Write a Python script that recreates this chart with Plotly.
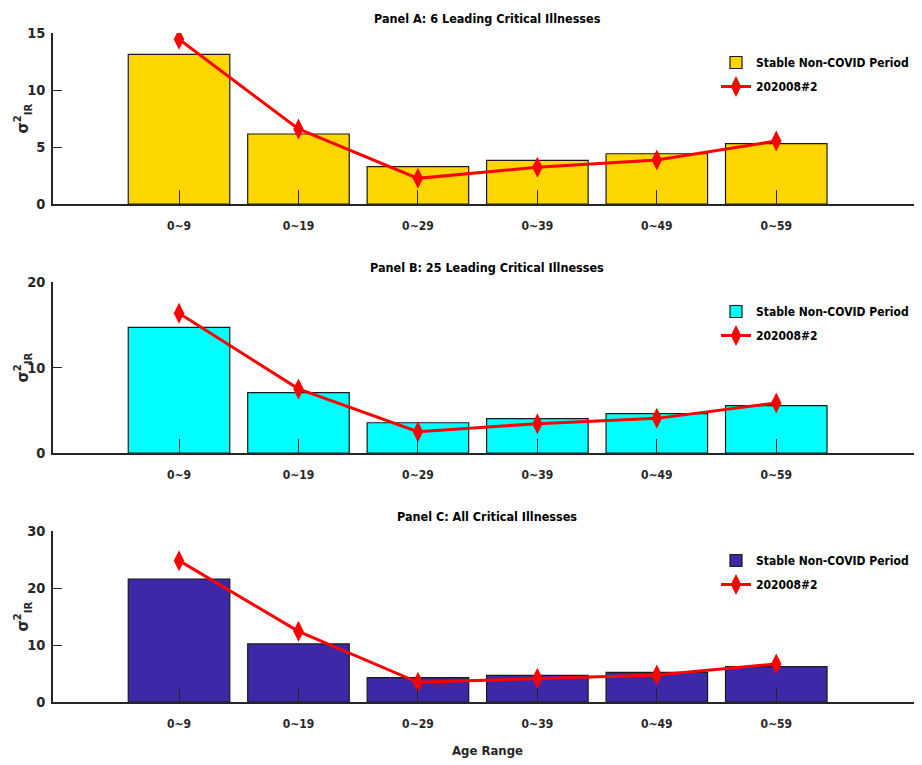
import plotly.graph_objects as go

categories = ["0~9", "0~19", "0~29", "0~39", "0~49", "0~59"]

panel_titles = [
    "Panel A: 6 Leading Critical Illnesses",
    "Panel B: 25 Leading Critical Illnesses",
    "Panel C: All Critical Illnesses",
]

stable_a = [13.13, 6.14, 3.27, 3.83, 4.41, 5.29]
covid_a = [14.45, 6.58, 2.25, 3.22, 3.86, 5.53]

stable_b = [14.7, 7.05, 3.54, 4.01, 4.6, 5.53]
covid_b = [16.34, 7.5, 2.5, 3.43, 4.05, 5.85]

stable_c = [21.58, 10.18, 4.27, 4.68, 5.2, 6.2]
covid_c = [24.8, 12.4, 3.45, 4.15, 4.74, 6.67]

y_ranges = [[0, 15], [0, 20], [0, 30]]
y_ticks = [[0, 5, 10, 15], [0, 10, 20], [0, 10, 20, 30]]

bar_colors = ["#FFD700", "#00FFFF", "#3D29A8"]
bar_name = "Stable Non-COVID Period"
line_name = "202008#2"

# page has an 8px body margin: figure is drawn at (8, 8)
W, H = 914, 757
FONT = "DejaVu Sans Condensed, Liberation Sans Narrow, Liberation Sans, Arial, sans-serif"
TXT = "#262626"

# pixel layout (top, bottom) of each panel's plot area, in figure pixels
panel_px = [(25, 196), (274, 445), (523, 694)]
left_px = 45

stables = [stable_a, stable_b, stable_c]
covids = [covid_a, covid_b, covid_c]

fig = go.Figure()
x_idx = list(range(len(categories)))

annotations = []
layout_extra = {}
for i in range(3):
    xa = "x" if i == 0 else f"x{i+1}"
    ya = "y" if i == 0 else f"y{i+1}"
    lg = "legend" if i == 0 else f"legend{i+1}"
    fig.add_trace(go.Bar(
        x=x_idx, y=stables[i], name=bar_name, xaxis=xa, yaxis=ya, legend=lg,
        legendgroup=f"bar{i}",
        width=0.85, marker=dict(color=bar_colors[i], line=dict(color="#1a1a1a", width=1.2)),
    ))
    fig.add_trace(go.Scatter(
        x=x_idx, y=covids[i], name=line_name, xaxis=xa, yaxis=ya, legend=lg,
        legendgroup=f"line{i}",
        mode="lines+markers",
        line=dict(color="#FF0000", width=3),
        marker=dict(symbol="diamond-tall", size=15, color="#FF0000"),
    ))
    top, bot = panel_px[i]
    dom = [1 - bot / H, 1 - top / H]
    xkey = "xaxis" if i == 0 else f"xaxis{i+1}"
    ykey = "yaxis" if i == 0 else f"yaxis{i+1}"
    layout_extra[xkey] = dict(
        domain=[left_px / W, 1], anchor=ya, range=[-1.055, 6.22],
        tickmode="array", tickvals=x_idx, ticktext=categories,
        ticks="inside", ticklen=14, tickcolor="#262626", tickwidth=1,
        showline=True, linecolor="#262626", linewidth=1.5,
        showgrid=False, zeroline=False, ticklabelstandoff=10, automargin=False,
        tickfont=dict(family=FONT, size=12, color=TXT, weight="bold"),
    )
    layout_extra[ykey] = dict(
        domain=dom, anchor=xa, range=y_ranges[i], tickvals=y_ticks[i],
        ticks="inside", ticklen=9, tickcolor="#262626", tickwidth=1,
        showline=True, linecolor="#262626", linewidth=1.5,
        showgrid=False, zeroline=False, ticklabelstandoff=3, automargin=False,
        tickfont=dict(family=FONT, size=14.5, color=TXT, weight="bold"),
    )
    layout_extra[lg] = dict(
        x=708 / W, y=1 - (top + 15) / H, xanchor="left", yanchor="top",
        bgcolor="rgba(0,0,0,0)", borderwidth=0, itemwidth=30, tracegroupgap=5,
        font=dict(family=FONT, size=12, color="#000000", weight="bold"),
    )
    annotations.append(dict(
        text=f"<b>{panel_titles[i]}</b>", xref="paper", yref="paper",
        x=(left_px / W + 1) / 2, y=1 - (top - 15) / H, xanchor="center", yanchor="middle",
        showarrow=False, font=dict(family=FONT, size=12.5, color="#000000"),
    ))
    annotations.append(dict(
        text="<b>σ<sup>2</sup><sub>IR</sub></b>", xref="paper", yref="paper",
        x=15 / W, y=1 - ((top + bot) / 2) / H, xanchor="center", yanchor="middle",
        textangle=-90, showarrow=False, font=dict(family=FONT, size=16, color=TXT),
    ))

annotations.append(dict(
    text="<b>Age Range</b>", xref="paper", yref="paper",
    x=(left_px / W + 1) / 2, y=1 - 742 / H, xanchor="center", yanchor="middle",
    showarrow=False, font=dict(family=FONT, size=13, color=TXT),
))

fig.update_layout(
    width=W, height=H, margin=dict(l=0, r=0, t=0, b=0, autoexpand=False),
    paper_bgcolor="white", plot_bgcolor="white",
    annotations=annotations, bargap=0.15, **layout_extra,
)

fig.write_html("out.html")
